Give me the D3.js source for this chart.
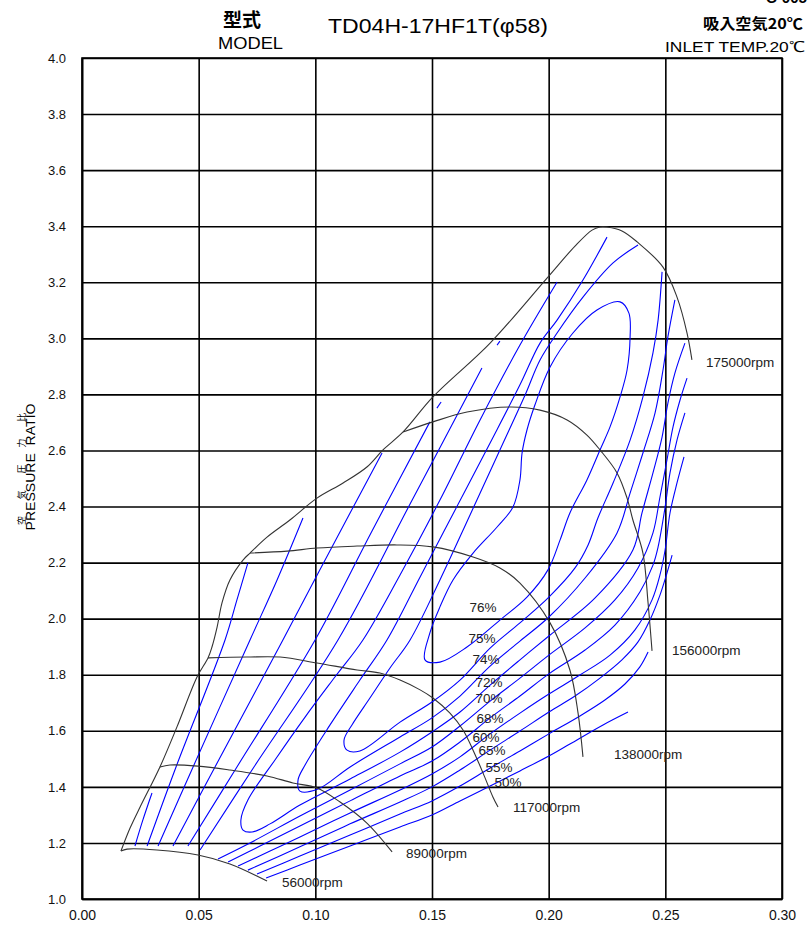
<!DOCTYPE html>
<html lang="ja">
<head>
<meta charset="UTF-8">
<title>TD04H-17HF1T compressor map</title>
<script src="https://cdnjs.cloudflare.com/ajax/libs/d3/7.8.5/d3.min.js"></script>
<style>
  body { margin:0; background:#fff; }
  svg { display:block; font-family:"Liberation Sans", Arial, sans-serif; }
  .grid line, .grid path { stroke:#000; stroke-width:1.6; }
  .grid text { font-size:13px; fill:#111; font-family:"Liberation Sans", Arial, sans-serif; }
  .grid.xa text { font-size:14px; }
  .speed { fill:none; stroke:#333; stroke-width:1.1; }
  .eff { fill:none; stroke:#0000ff; stroke-width:1.1; }
  .lbl { font-size:13.5px; fill:#222; }
</style>
</head>
<body>
<script>
// axis ticks
var xTicks = [0.00, 0.05, 0.10, 0.15, 0.20, 0.25, 0.30];
var yTicks = [1.0, 1.2, 1.4, 1.6, 1.8, 2.0, 2.2, 2.4, 2.6, 2.8, 3.0, 3.2, 3.4, 3.6, 3.8, 4.0];

// surge line and speed lines  [flow, pressure ratio]
var surgeLine = [[0.0167,1.171],[0.0206,1.253],[0.0249,1.328],[0.0334,1.471],[0.0407,1.614],[0.0493,1.792],[0.0540,1.860],[0.0557,1.899],[0.0579,1.970],[0.0600,2.056],[0.0634,2.138],[0.0690,2.209],[0.0720,2.234],[0.0793,2.291],[0.0891,2.352],[0.1007,2.430],[0.1119,2.484],[0.1221,2.541],[0.1290,2.602],[0.1376,2.666],[0.1504,2.791],[0.1749,2.983],[0.1993,3.215],[0.2113,3.329],[0.2186,3.386],[0.2220,3.397],[0.2250,3.397]];
var rpm175000 = [[0.2250,3.397],[0.2314,3.383],[0.2379,3.344],[0.2490,3.254],[0.2550,3.147],[0.2593,3.019],[0.2614,2.923]];
var rpm156000 = [[0.1376,2.666],[0.1504,2.702],[0.1650,2.737],[0.1834,2.755],[0.1963,2.744],[0.2079,2.709],[0.2164,2.655],[0.2220,2.602],[0.2293,2.520],[0.2336,2.430],[0.2361,2.352],[0.2404,2.234],[0.2426,2.056],[0.2443,1.885]];
var rpm138000 = [[0.0720,2.234],[0.0879,2.241],[0.1007,2.252],[0.1179,2.259],[0.1350,2.263],[0.1504,2.256],[0.1676,2.220],[0.1791,2.181],[0.1877,2.127],[0.2006,1.985],[0.2091,1.817],[0.2126,1.663],[0.2147,1.507]];
var rpm117000 = [[0.0540,1.860],[0.0707,1.863],[0.0849,1.863],[0.1007,1.842],[0.1179,1.817],[0.1277,1.806],[0.1363,1.781],[0.1449,1.746],[0.1504,1.717],[0.1577,1.663],[0.1633,1.603],[0.1676,1.531],[0.1719,1.449],[0.1761,1.364],[0.1783,1.328]];
var rpm89000 = [[0.0334,1.471],[0.0377,1.478],[0.0497,1.474],[0.0634,1.460],[0.0793,1.439],[0.0904,1.414],[0.1007,1.396],[0.1106,1.346],[0.1221,1.271],[0.1329,1.168]];
var rpm56000 = [[0.0167,1.171],[0.0193,1.178],[0.0321,1.175],[0.0497,1.157],[0.0634,1.125],[0.0793,1.064]];

var rpmLabels = [
  {text:"175000rpm", at:[0.2674,2.916]},
  {text:"156000rpm", at:[0.2529,1.888]},
  {text:"138000rpm", at:[0.2280,1.517]},
  {text:"117000rpm", at:[0.1847,1.328]},
  {text:"89000rpm",  at:[0.1389,1.164]},
  {text:"56000rpm",  at:[0.0857,1.061]}
];

// efficiency contours, each a list of visible pieces
var eff76 = [[[0.1470,1.853],[0.1491,1.949],[0.1534,2.042],[0.1590,2.138],[0.1676,2.234],[0.1779,2.327],[0.1847,2.398],[0.1877,2.495],[0.1886,2.591],[0.1907,2.673],[0.1941,2.762],[0.2006,2.898],[0.2104,3.019],[0.2207,3.101],[0.2306,3.130],[0.2344,3.090],[0.2349,3.005],[0.2336,2.887],[0.2306,2.791],[0.2263,2.684],[0.2220,2.602],[0.2164,2.495],[0.2091,2.377],[0.2049,2.281],[0.1997,2.174],[0.1907,2.077],[0.1791,1.995],[0.1650,1.899],[0.1534,1.845]]];
var eff75 = [[[0.2383,3.333],[0.2276,3.269],[0.2147,3.147],[0.2036,3.019],[0.1963,2.923],[0.1899,2.798],[0.1791,2.602],[0.1663,2.370],[0.1534,2.138],[0.1406,1.924],[0.1320,1.824],[0.1234,1.717],[0.1157,1.621],[0.1123,1.567],[0.1136,1.531],[0.1191,1.528],[0.1363,1.631],[0.1500,1.703],[0.1620,1.781],[0.1749,1.895],[0.1877,1.985],[0.2001,2.077],[0.2113,2.181],[0.2169,2.263],[0.2211,2.359],[0.2276,2.484],[0.2349,2.637],[0.2404,2.791],[0.2447,2.948],[0.2469,3.065],[0.2486,3.237]]];
var eff74 = [[[0.2250,3.361],[0.2147,3.208],[0.2036,3.065],[0.1963,2.983],[0.1877,2.834],[0.1749,2.627],[0.1599,2.388],[0.1449,2.149],[0.1307,1.924],[0.1191,1.781],[0.1063,1.621],[0.0956,1.478],[0.0926,1.425],[0.0934,1.385],[0.1011,1.392],[0.1149,1.471],[0.1363,1.578],[0.1500,1.646],[0.1620,1.724],[0.1749,1.831],[0.1877,1.920],[0.2001,2.006],[0.2156,2.145],[0.2293,2.306],[0.2349,2.448],[0.2404,2.591],[0.2456,2.734],[0.2490,2.887],[0.2511,3.005],[0.2541,3.137]]];
var eff72 = [[[0.2036,3.201],[0.1877,2.976],[0.1706,2.709],[0.1534,2.423],[0.1363,2.156],[0.1204,1.924],[0.1084,1.792],[0.0956,1.649],[0.0827,1.496],[0.0711,1.353],[0.0681,1.282],[0.0690,1.246],[0.0729,1.239],[0.0806,1.268],[0.0934,1.335],[0.1149,1.428],[0.1363,1.524],[0.1500,1.596],[0.1620,1.667],[0.1749,1.763],[0.1877,1.853],[0.2001,1.938],[0.2199,2.074],[0.2361,2.245],[0.2400,2.377],[0.2447,2.520],[0.2486,2.648],[0.2511,2.769],[0.2541,2.876],[0.2584,2.983]]];
var eff70 = [
  [[0.1779,2.976],[0.1791,2.990]],
  [[0.1714,2.894],[0.1406,2.409],[0.1097,1.924],[0.0737,1.471],[0.0506,1.175]],
  [[0.0583,1.143],[0.0720,1.200],[0.0934,1.296],[0.1149,1.389],[0.1363,1.482],[0.1500,1.542],[0.1620,1.617],[0.1749,1.706],[0.1877,1.788],[0.2001,1.870],[0.2156,1.967],[0.2284,2.067],[0.2383,2.181],[0.2447,2.306],[0.2477,2.434],[0.2507,2.566],[0.2533,2.684],[0.2563,2.780],[0.2593,2.858]]
];
var eff68 = [
  [[0.1521,2.751],[0.1539,2.773]],
  [[0.1491,2.702],[0.1243,2.313],[0.0999,1.924],[0.0664,1.471],[0.0454,1.189]],
  [[0.0626,1.132],[0.0763,1.189],[0.0934,1.260],[0.1149,1.350],[0.1363,1.439],[0.1500,1.492],[0.1620,1.560],[0.1749,1.646],[0.1877,1.724],[0.2001,1.803],[0.2156,1.888],[0.2284,1.977],[0.2391,2.095],[0.2447,2.191],[0.2469,2.256],[0.2499,2.398],[0.2520,2.520],[0.2550,2.637],[0.2584,2.734]]
];
var eff65 = [
  [[0.1286,2.591],[0.1076,2.263],[0.0861,1.924],[0.0570,1.471],[0.0390,1.189]],
  [[0.0669,1.118],[0.0806,1.171],[0.0934,1.221],[0.1149,1.307],[0.1363,1.389],[0.1500,1.446],[0.1620,1.507],[0.1749,1.589],[0.1877,1.663],[0.2001,1.731],[0.2134,1.799],[0.2263,1.870],[0.2370,1.960],[0.2443,2.067],[0.2477,2.156],[0.2499,2.245],[0.2520,2.377],[0.2550,2.484],[0.2580,2.577]]
];
var eff60 = [
  [[0.0947,2.359],[0.0836,2.138],[0.0720,1.924],[0.0476,1.471],[0.0326,1.189]],
  [[0.0711,1.103],[0.0934,1.186],[0.1149,1.268],[0.1363,1.346],[0.1500,1.400],[0.1620,1.460],[0.1749,1.531],[0.1877,1.599],[0.2001,1.667],[0.2113,1.724],[0.2220,1.788],[0.2314,1.853],[0.2383,1.917],[0.2434,1.995],[0.2477,2.084],[0.2507,2.163],[0.2529,2.227]]
];
var eff55 = [
  [[0.0711,2.199],[0.0664,2.067],[0.0613,1.924],[0.0403,1.471],[0.0279,1.189]],
  [[0.0750,1.089],[0.0934,1.153],[0.1149,1.228],[0.1363,1.303],[0.1500,1.350],[0.1620,1.403],[0.1749,1.467],[0.1877,1.528],[0.2001,1.589],[0.2134,1.653],[0.2241,1.710],[0.2327,1.767],[0.2391,1.828],[0.2426,1.881]]
];
var eff50 = [
  [[0.0227,1.189],[0.0261,1.282],[0.0300,1.378]],
  [[0.0789,1.075],[0.0934,1.121],[0.1149,1.189],[0.1363,1.257],[0.1500,1.300],[0.1620,1.350],[0.1749,1.403],[0.1877,1.457],[0.2001,1.510],[0.2091,1.553],[0.2233,1.621],[0.2340,1.667]]
];

var effLabels = [
  {text:"76%", at:[0.1719,2.042]},
  {text:"75%", at:[0.1714,1.931]},
  {text:"74%", at:[0.1731,1.856]},
  {text:"72%", at:[0.1744,1.774]},
  {text:"70%", at:[0.1744,1.717]},
  {text:"68%", at:[0.1749,1.646]},
  {text:"60%", at:[0.1731,1.578]},
  {text:"65%", at:[0.1757,1.531]},
  {text:"55%", at:[0.1787,1.471]},
  {text:"50%", at:[0.1826,1.417]}
];

var width = 807, height = 926;
// plot frame (window.top is reserved, so no plain "top")
var plotL = 82, plotR = 782, plotT = 58, plotB = 899;

var x = d3.scaleLinear().domain([0, 0.30]).range([plotL, plotR]);
var y = d3.scaleLinear().domain([1.0, 4.0]).range([plotB, plotT]);

var svg = d3.select("body").append("svg")
    .attr("width", width)
    .attr("height", height);

// grid + tick labels from the axes
svg.append("g")
    .attr("class", "grid xa")
    .attr("transform", "translate(0," + plotB + ")")
    .call(d3.axisBottom(x).tickValues(xTicks).tickSize(-(plotB - plotT)).tickSizeOuter(0)
        .tickPadding(11).tickFormat(d3.format(".2f")));

svg.append("g")
    .attr("class", "grid")
    .attr("transform", "translate(" + plotL + ",0)")
    .call(d3.axisLeft(y).tickValues(yTicks).tickSize(-(plotR - plotL)).tickSizeOuter(0)
        .tickPadding(16).tickFormat(d3.format(".1f")));

svg.append("rect")
    .attr("x", plotL).attr("y", plotT)
    .attr("width", plotR - plotL).attr("height", plotB - plotT)
    .attr("fill", "none").attr("stroke", "#000").attr("stroke-width", 1.6);

var line = d3.line()
    .x(function(d) { return x(d[0]); })
    .y(function(d) { return y(d[1]); })
    .curve(d3.curveCatmullRom.alpha(0.5));

var loop = d3.line()
    .x(function(d) { return x(d[0]); })
    .y(function(d) { return y(d[1]); })
    .curve(d3.curveCatmullRomClosed.alpha(0.5));

// efficiency lines
eff76.forEach(function(seg) {
    svg.append("path").attr("class", "eff").attr("d", loop(seg));
});
[eff75, eff74, eff72, eff70, eff68, eff65, eff60, eff55, eff50].forEach(function(c) {
    c.forEach(function(seg) {
        svg.append("path").attr("class", "eff").attr("d", line(seg));
    });
});

// surge + speed lines
[surgeLine, rpm175000, rpm156000, rpm138000, rpm117000, rpm89000, rpm56000].forEach(function(s) {
    svg.append("path").attr("class", "speed").attr("d", line(s));
});

svg.selectAll(".rpm").data(rpmLabels).enter().append("text")
    .attr("class", "lbl")
    .attr("x", function(d) { return x(d.at[0]); })
    .attr("y", function(d) { return y(d.at[1]); })
    .attr("dy", "0.36em")
    .text(function(d) { return d.text; });

svg.selectAll(".pct").data(effLabels).enter().append("text")
    .attr("class", "lbl")
    .attr("text-anchor", "middle")
    .attr("x", function(d) { return x(d.at[0]); })
    .attr("y", function(d) { return y(d.at[1]); })
    .attr("dy", "0.36em")
    .text(function(d) { return d.text; });

// header
svg.append("text").attr("x", 242).attr("y", 27).attr("text-anchor", "middle")
    .style("font-family", "'Noto Sans CJK JP', sans-serif").style("font-size", "19px")
    .style("font-weight", "bold").text("型式");
svg.append("text").attr("x", 218).attr("y", 49)
    .attr("textLength", 65).attr("lengthAdjust", "spacingAndGlyphs")
    .style("font-size", "16px").text("MODEL");
svg.append("text").attr("x", 328).attr("y", 33)
    .attr("textLength", 220).attr("lengthAdjust", "spacingAndGlyphs")
    .style("font-size", "21px").text("TD04H-17HF1T(φ58)");
svg.append("text").attr("x", 703).attr("y", 29)
    .attr("textLength", 100).attr("lengthAdjust", "spacingAndGlyphs")
    .style("font-family", "'Noto Sans CJK JP', sans-serif").style("font-size", "15px")
    .style("font-weight", "bold").text("吸入空気20℃");
svg.append("text").attr("x", 665).attr("y", 52)
    .attr("textLength", 140).attr("lengthAdjust", "spacingAndGlyphs")
    .style("font-size", "15px").text("INLET TEMP.20℃");
svg.append("text").attr("x", 766).attr("y", 3)
    .style("font-size", "15px").style("font-weight", "bold").text("C-005");

// y axis title
svg.append("text")
    .attr("transform", "translate(35,467) rotate(-90)")
    .attr("text-anchor", "middle")
    .attr("textLength", 127).attr("lengthAdjust", "spacingAndGlyphs")
    .style("font-size", "12.5px").style("white-space", "pre")
    .text("PRESSURE  RATIO");
svg.append("text")
    .attr("transform", "translate(25,469) rotate(-90)")
    .attr("text-anchor", "middle")
    .attr("textLength", 112).attr("lengthAdjust", "spacing")
    .style("font-family", "'Noto Sans CJK JP', sans-serif").style("font-size", "9px")
    .text("空気圧力比");
</script>
</body>
</html>
